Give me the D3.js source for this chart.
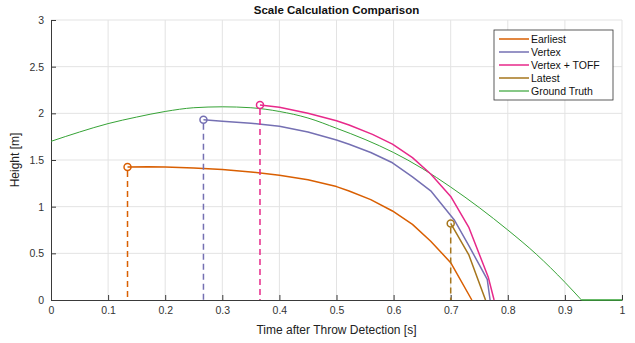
<!DOCTYPE html>
<html>
<head>
<meta charset="utf-8">
<script src="https://cdn.jsdelivr.net/npm/d3@7"></script>
<style>
  body { margin: 0; background: #fff; }
  svg { display: block; font-family: "Liberation Sans", Arial, sans-serif; }
  .grid line { stroke: #e3e3e3; stroke-width: 1; }
  .axis path, .axis line { stroke: #3a3a3a; }
  .axis text { fill: #333; font-size: 10.5px; }
</style>
</head>
<body>
<div id="chart"></div>
<script>
// --- data ---
const xTicks = [0, 0.1, 0.2, 0.3, 0.4, 0.5, 0.6, 0.7, 0.8, 0.9, 1];
const yTicks = [0, 0.5, 1, 1.5, 2, 2.5, 3];

const earliestT = [0.134, 0.17, 0.2, 0.25, 0.3, 0.35, 0.4, 0.45, 0.5, 0.522, 0.56, 0.598, 0.633, 0.665, 0.70, 0.737];
const earliestH = [1.425, 1.428, 1.425, 1.415, 1.397, 1.372, 1.337, 1.288, 1.215, 1.168, 1.075, 0.954, 0.81, 0.63, 0.40, 0];

const vertexT = [0.267, 0.3, 0.35, 0.4, 0.45, 0.5, 0.522, 0.56, 0.598, 0.633, 0.665, 0.706, 0.732, 0.764, 0.769];
const vertexH = [1.93, 1.915, 1.895, 1.862, 1.80, 1.715, 1.668, 1.58, 1.47, 1.32, 1.17, 0.86, 0.58, 0.22, 0];

const toffT = [0.366, 0.4, 0.45, 0.5, 0.522, 0.563, 0.598, 0.633, 0.665, 0.70, 0.732, 0.766, 0.776];
const toffH = [2.089, 2.065, 2.0, 1.92, 1.875, 1.775, 1.67, 1.525, 1.35, 1.11, 0.775, 0.24, 0];

const latestT = [0.70, 0.732, 0.761];
const latestH = [0.82, 0.48, 0];

const truthT = [0, 0.05, 0.1, 0.15, 0.2, 0.25, 0.3, 0.35, 0.4, 0.45, 0.5, 0.55, 0.6, 0.65, 0.7, 0.75, 0.8, 0.85, 0.9, 0.929, 1];
const truthH = [1.70, 1.80, 1.89, 1.96, 2.02, 2.06, 2.07, 2.06, 2.02, 1.95, 1.84, 1.72, 1.58, 1.41, 1.21, 0.99, 0.75, 0.49, 0.19, 0, 0];

const seriesNames = ["Earliest", "Vertex", "Vertex + TOFF", "Latest", "Ground Truth"];
const seriesColors = ["#d95f02", "#7570b3", "#e7298a", "#a6761d", "#36a336"];

const W = 635, H = 343;
const margin = { top: 20, right: 13, bottom: 43, left: 51 };
const iw = W - margin.left - margin.right;
const ih = H - margin.top - margin.bottom;

const svg = d3.select("#chart").append("svg").attr("width", W).attr("height", H);
const g = svg.append("g").attr("transform", `translate(${margin.left},${margin.top})`);

const x = d3.scaleLinear().domain([0, 1]).range([0, iw]);
const y = d3.scaleLinear().domain([0, 3]).range([ih, 0]);

// grid
const grid = g.append("g").attr("class", "grid");
grid.selectAll(".gx").data(xTicks.slice(1)).enter().append("line")
  .attr("x1", d => x(d)).attr("x2", d => x(d)).attr("y1", 0).attr("y2", ih);
grid.selectAll(".gy").data(yTicks.slice(1)).enter().append("line")
  .attr("x1", 0).attr("x2", iw).attr("y1", d => y(d)).attr("y2", d => y(d));

// axes (ticks pointing inward, MATLAB style)
g.append("g").attr("class", "axis")
  .attr("transform", `translate(0,${ih})`)
  .call(d3.axisBottom(x).tickValues(xTicks).tickFormat(d3.format("~g")).tickSizeInner(-5).tickSizeOuter(0).tickPadding(7));
g.append("g").attr("class", "axis")
  .call(d3.axisLeft(y).tickValues(yTicks).tickFormat(d3.format("~g")).tickSizeInner(-5).tickSizeOuter(0).tickPadding(7));

const zip = (a, b) => a.map((v, i) => [v, b[i]]);
const plain = d3.line().x(d => x(d[0])).y(d => y(d[1]));
const smooth = d3.line().x(d => x(d[0])).y(d => y(d[1])).curve(d3.curveMonotoneX);

// ground truth: smooth arc then flat on the floor
const truth = zip(truthT, truthH);
const landIdx = truthH.indexOf(0);
g.append("path").datum(truth.slice(0, landIdx + 1))
  .attr("fill", "none").attr("stroke", seriesColors[4]).attr("stroke-width", 1)
  .attr("d", smooth);
g.append("path").datum(truth.slice(landIdx))
  .attr("fill", "none").attr("stroke", seriesColors[4]).attr("stroke-width", 1.3)
  .attr("d", plain);

const estimates = [
  [earliestT, earliestH],
  [vertexT, vertexH],
  [toffT, toffH],
  [latestT, latestH]
];

estimates.forEach(([ts, hs], i) => {
  const col = seriesColors[i];
  const pts = zip(ts, hs);
  // dashed drop line from start point to floor
  g.append("line")
    .attr("x1", x(ts[0])).attr("x2", x(ts[0]))
    .attr("y1", y(hs[0]) + 4).attr("y2", y(0))
    .attr("stroke", col).attr("stroke-width", 1.5).attr("stroke-dasharray", "6,4");
  g.append("path").datum(pts)
    .attr("fill", "none").attr("stroke", col).attr("stroke-width", 1.5)
    .attr("stroke-linejoin", "round")
    .attr("d", plain);
  g.append("circle")
    .attr("cx", x(ts[0])).attr("cy", y(hs[0])).attr("r", 3.5)
    .attr("fill", "none").attr("stroke", col).attr("stroke-width", 1.5);
});

// title and labels
svg.append("text").attr("x", margin.left + iw / 2).attr("y", 14)
  .attr("text-anchor", "middle").attr("font-size", 11.5).attr("font-weight", "bold").attr("fill", "#111")
  .text("Scale Calculation Comparison");
svg.append("text").attr("x", margin.left + iw / 2).attr("y", 334)
  .attr("text-anchor", "middle").attr("font-size", 12).attr("fill", "#222")
  .text("Time after Throw Detection [s]");
svg.append("text").attr("transform", `translate(19,${margin.top + ih / 2}) rotate(-90)`)
  .attr("text-anchor", "middle").attr("font-size", 12).attr("fill", "#222")
  .text("Height [m]");

// legend
const lg = svg.append("g").attr("transform", "translate(494,30)");
lg.append("rect").attr("width", 119).attr("height", 70)
  .attr("fill", "#fff").attr("stroke", "#333").attr("stroke-width", 0.8);
seriesNames.forEach((name, i) => {
  const yy = 9 + i * 13;
  lg.append("line").attr("x1", 5).attr("x2", 35).attr("y1", yy).attr("y2", yy)
    .attr("stroke", seriesColors[i]).attr("stroke-width", i === 4 ? 1.2 : 1.5);
  lg.append("text").attr("x", 37).attr("y", yy + 3.5)
    .attr("font-size", 10.5).attr("fill", "#111").text(name);
});
</script>
</body>
</html>
